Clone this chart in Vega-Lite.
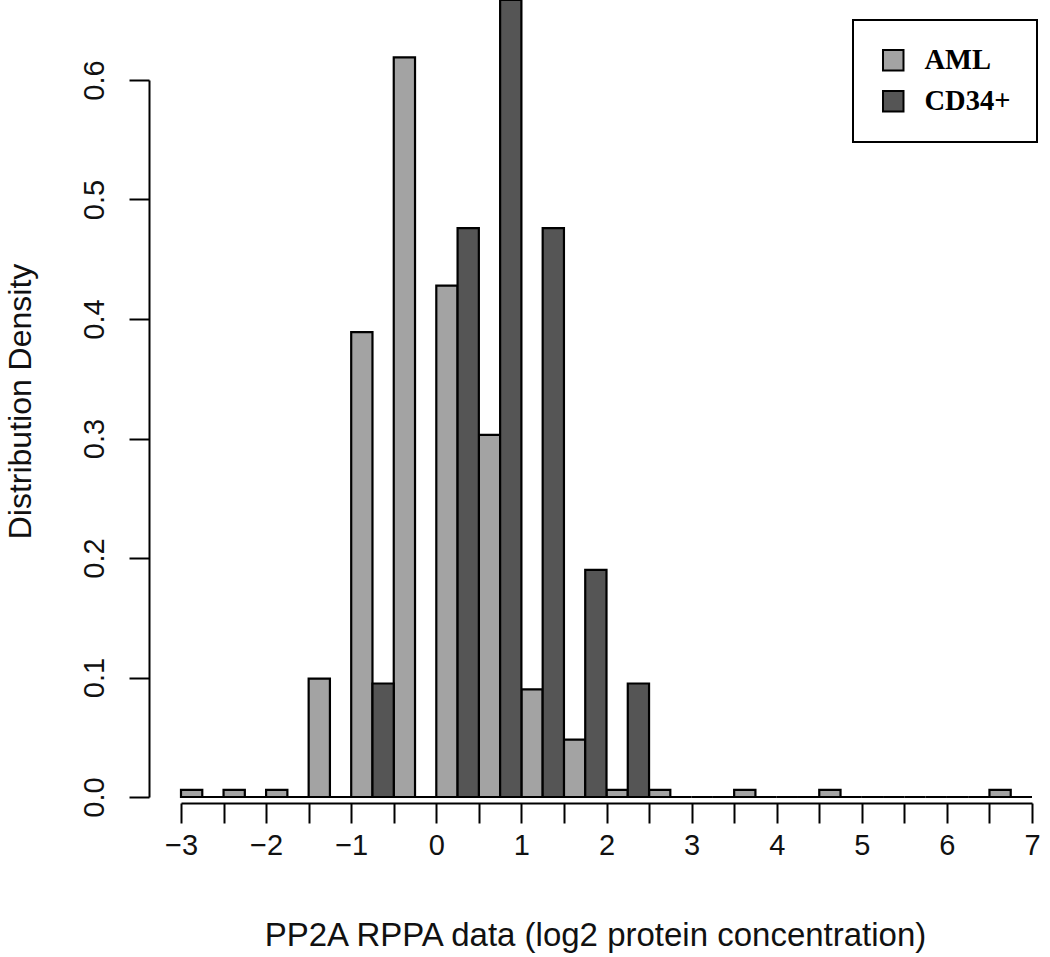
{
  "$schema": "https://vega.github.io/schema/vega-lite/v6.json",
  "width": 851,
  "height": 717,
  "autosize": {"type": "none"},
  "padding": {"left": 181, "top": 80, "right": 18, "bottom": 160},
  "background": "white",
  "config": {
    "view": {"stroke": null},
    "font": "Liberation Sans",
    "legend": {"strokeWidth": 2},
    "axis": {
      "domainColor": "black", "domainWidth": 2, "tickColor": "black", "tickWidth": 2,
      "tickSize": 20, "grid": false, "labelFont": "Liberation Sans", "labelFontSize": 29,
      "labelColor": "#111", "titleFont": "Liberation Sans", "titleFontSize": 33,
      "titleFontWeight": "normal", "titleColor": "#111"
    }
  },
  "data": {
    "values": [
      {"lo": -3, "hi": -2.5, "group": "AML", "density": 0.006},
      {"lo": -2.5, "hi": -2, "group": "AML", "density": 0.006},
      {"lo": -2, "hi": -1.5, "group": "AML", "density": 0.006},
      {"lo": -1.5, "hi": -1, "group": "AML", "density": 0.099},
      {"lo": -1, "hi": -0.5, "group": "AML", "density": 0.389},
      {"lo": -0.5, "hi": 0, "group": "AML", "density": 0.619},
      {"lo": 0, "hi": 0.5, "group": "AML", "density": 0.428},
      {"lo": 0.5, "hi": 1, "group": "AML", "density": 0.303},
      {"lo": 1, "hi": 1.5, "group": "AML", "density": 0.090},
      {"lo": 1.5, "hi": 2, "group": "AML", "density": 0.048},
      {"lo": 2, "hi": 2.5, "group": "AML", "density": 0.006},
      {"lo": 2.5, "hi": 3, "group": "AML", "density": 0.006},
      {"lo": 3, "hi": 3.5, "group": "AML", "density": 0},
      {"lo": 3.5, "hi": 4, "group": "AML", "density": 0.006},
      {"lo": 4, "hi": 4.5, "group": "AML", "density": 0},
      {"lo": 4.5, "hi": 5, "group": "AML", "density": 0.006},
      {"lo": 5, "hi": 5.5, "group": "AML", "density": 0},
      {"lo": 5.5, "hi": 6, "group": "AML", "density": 0},
      {"lo": 6, "hi": 6.5, "group": "AML", "density": 0},
      {"lo": 6.5, "hi": 7, "group": "AML", "density": 0.006},
      {"lo": -3, "hi": -2.5, "group": "CD34+", "density": 0},
      {"lo": -2.5, "hi": -2, "group": "CD34+", "density": 0},
      {"lo": -2, "hi": -1.5, "group": "CD34+", "density": 0},
      {"lo": -1.5, "hi": -1, "group": "CD34+", "density": 0},
      {"lo": -1, "hi": -0.5, "group": "CD34+", "density": 0.095},
      {"lo": -0.5, "hi": 0, "group": "CD34+", "density": 0},
      {"lo": 0, "hi": 0.5, "group": "CD34+", "density": 0.476},
      {"lo": 0.5, "hi": 1, "group": "CD34+", "density": 0.667},
      {"lo": 1, "hi": 1.5, "group": "CD34+", "density": 0.476},
      {"lo": 1.5, "hi": 2, "group": "CD34+", "density": 0.190},
      {"lo": 2, "hi": 2.5, "group": "CD34+", "density": 0.095},
      {"lo": 2.5, "hi": 3, "group": "CD34+", "density": 0},
      {"lo": 3, "hi": 3.5, "group": "CD34+", "density": 0},
      {"lo": 3.5, "hi": 4, "group": "CD34+", "density": 0},
      {"lo": 4, "hi": 4.5, "group": "CD34+", "density": 0},
      {"lo": 4.5, "hi": 5, "group": "CD34+", "density": 0},
      {"lo": 5, "hi": 5.5, "group": "CD34+", "density": 0},
      {"lo": 5.5, "hi": 6, "group": "CD34+", "density": 0},
      {"lo": 6, "hi": 6.5, "group": "CD34+", "density": 0},
      {"lo": 6.5, "hi": 7, "group": "CD34+", "density": 0}
    ]
  },
  "transform": [{"calculate": "(datum.lo + datum.hi) / 2", "as": "mid"}],
  "encoding": {
    "y": {
      "field": "density", "type": "quantitative",
      "scale": {"domain": [0, 0.6], "nice": false, "zero": true},
      "axis": {
        "title": "Distribution Density", "values": [0, 0.1, 0.2, 0.3, 0.4, 0.5, 0.6],
        "format": ".1f", "offset": 32, "labelAngle": 270, "labelAlign": "center",
        "labelBaseline": "alphabetic", "labelPadding": 26,
        "titleAngle": 270, "titleBaseline": "alphabetic", "titleAlign": "center",
        "titleFontSize": 32, "titleX": -119, "titleY": 321
      }
    },
    "y2": {"datum": 0},
    "fill": {
      "field": "group", "type": "nominal",
      "scale": {"domain": ["AML", "CD34+"], "range": ["#a3a3a3", "#555555"]},
      "legend": {
        "title": null, "orient": "none", "legendX": 672, "legendY": -60,
        "strokeColor": "black", "fillColor": "white", "padding": 26,
        "symbolType": "square", "symbolSize": 420, "symbolStrokeColor": "black",
        "symbolStrokeWidth": 2, "symbolOpacity": 1,
        "labelFont": "Liberation Serif", "labelFontSize": 28.5, "labelFontWeight": "bold",
        "labelColor": "black", "labelOffset": 17, "rowPadding": 12
      }
    }
  },
  "layer": [
    {
      "transform": [{"filter": "datum.group === 'AML'"}],
      "mark": {"type": "bar", "stroke": "black", "strokeWidth": 2.2},
      "encoding": {
        "x": {
          "field": "lo", "type": "quantitative",
          "scale": {"domain": [-3, 7], "nice": false, "zero": false},
          "axis": {
            "title": "PP2A RPPA data (log2 protein concentration)",
            "values": [-3, -2.5, -2, -1.5, -1, -0.5, 0, 0.5, 1, 1.5, 2, 2.5, 3, 3.5, 4, 4.5, 5, 5.5, 6, 6.5, 7],
            "format": ".0f",
            "labelExpr": "datum.value % 1 === 0 ? datum.label : ''",
            "offset": 6, "labelPadding": 8, "labelFlush": false, "labelOverlap": false,
            "titleX": 414, "titleY": 142, "titleBaseline": "alphabetic", "titleAlign": "center"
          }
        },
        "x2": {"field": "mid"}
      }
    },
    {
      "transform": [{"filter": "datum.group === 'CD34+'"}],
      "mark": {"type": "bar", "stroke": "black", "strokeWidth": 2.2},
      "encoding": {
        "x": {"field": "mid", "type": "quantitative"},
        "x2": {"field": "hi"}
      }
    }
  ]
}
